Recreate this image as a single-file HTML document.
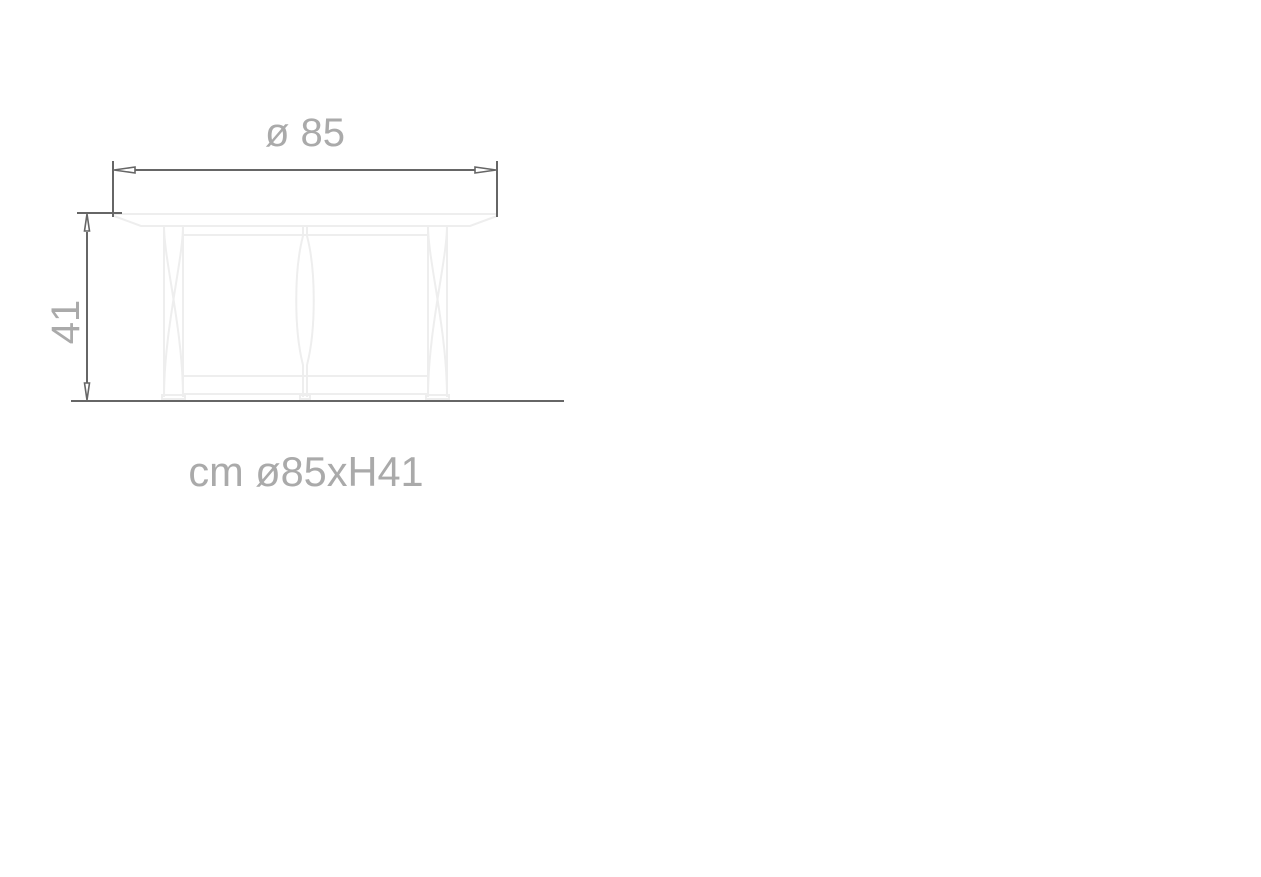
<!DOCTYPE html>
<html><head><meta charset="utf-8"><style>
html,body{margin:0;padding:0;background:#fff;}
svg{display:block}
text{font-family:"Liberation Sans",sans-serif;fill:#aaaaaa}
</style></head><body>
<svg width="1261" height="877" viewBox="0 0 1261 877" xmlns="http://www.w3.org/2000/svg">
<g fill="none" stroke="#eeeeee" stroke-width="2">
  <line x1="114" y1="214" x2="497" y2="214"/>
  <path d="M114 216 L141 226 L470 226 L497 216"/>
  <line x1="183" y1="235" x2="428" y2="235"/>
  <line x1="183" y1="376" x2="428" y2="376"/>
  <line x1="183" y1="394" x2="428" y2="394"/>
  <!-- left leg -->
  <path d="M164 226 C164 260 183 330 183 397"/>
  <path d="M183 226 C183 260 164 330 164 397"/>
  <path d="M164 226 L164 397 M183 226 L183 397"/>
  <rect x="162" y="395" width="23" height="4"/>
  <!-- right leg -->
  <path d="M428 226 C428 260 447 330 447 397"/>
  <path d="M447 226 C447 260 428 330 428 397"/>
  <path d="M428 226 L428 397 M447 226 L447 397"/>
  <rect x="426" y="395" width="23" height="4"/>
  <!-- center leg -->
  <path d="M303 226 L303 236 C294 270 294 330 303 365 L303 397"/>
  <path d="M307 226 L307 236 C316 270 316 330 307 365 L307 397"/>
  <rect x="300" y="395" width="10" height="4"/>
</g>
<g fill="none" stroke="#666666" stroke-width="2">
  <line x1="113" y1="161" x2="113" y2="217"/>
  <line x1="497" y1="161" x2="497" y2="217"/>
  <line x1="135" y1="170" x2="475" y2="170"/>
  <line x1="77" y1="213" x2="122" y2="213"/>
  <line x1="87" y1="232" x2="87" y2="383"/>
  <line x1="71" y1="401" x2="564" y2="401"/>
</g>
<g fill="#fff" stroke="#666666" stroke-width="1.6">
  <polygon points="114,170 135,167 135,173"/>
  <polygon points="496,170 475,167 475,173"/>
  <polygon points="87,214 84.5,231 89.5,231"/>
  <polygon points="87,400 84.5,383 89.5,383"/>
</g>
<text x="305" y="146" font-size="40" text-anchor="middle">ø 85</text>
<text x="306" y="486" font-size="41.5" text-anchor="middle">cm ø85xH41</text>
<text transform="translate(79,322) rotate(-90)" font-size="40" text-anchor="middle">41</text>
</svg>
</body></html>
